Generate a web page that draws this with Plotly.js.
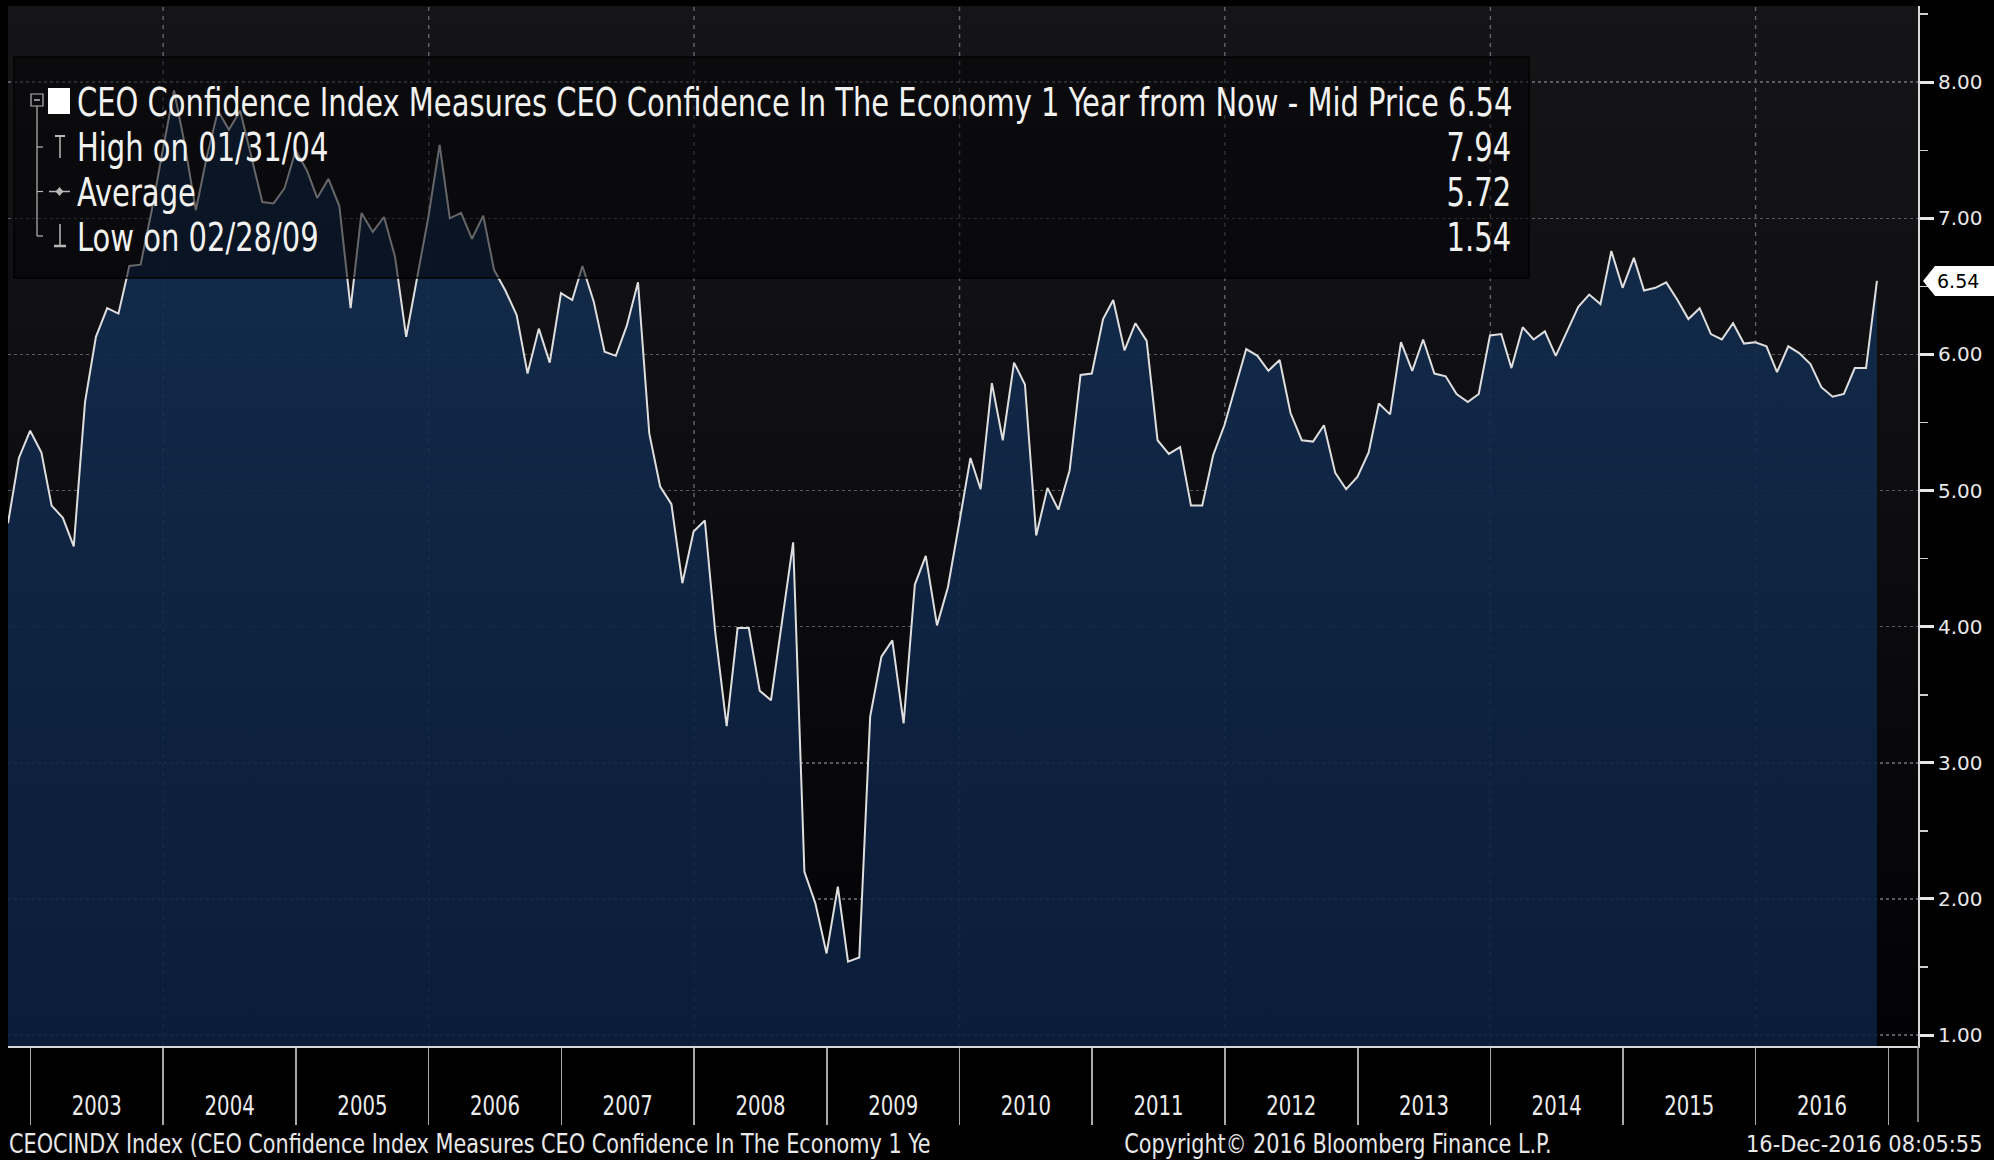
<!DOCTYPE html>
<html>
<head>
<meta charset="utf-8">
<script src="https://cdn.plot.ly/plotly-3.0.1.min.js"></script>
<style>
  html, body { margin: 0; padding: 0; background: #000; overflow: hidden; }
  #wrap { position: relative; width: 1994px; height: 1160px; background: #000; }
  #bg { position: absolute; left: 8px; top: 6px; width: 1910px; height: 1040px;
        background: linear-gradient(to bottom, #151518 0%, #0e0e11 45%, #020204 100%); }
  #chart { position: absolute; left: 0; top: 0; width: 1994px; height: 1160px; }
</style>
</head>
<body>
<div id="wrap"><div id="bg"></div><div id="chart"></div></div>
<script>
// ---- Data: CEO Confidence Index, month-end values ----
const v2002 = [4.76, 5.24, 5.44]; // Oct-Dec 2002
const v2003 = [5.28, 4.89, 4.80, 4.59, 5.65, 6.13, 6.34, 6.30, 6.65, 6.66, 7.05, 7.50];
const v2004 = [7.94, 7.55, 7.06, 7.45, 7.79, 7.65, 7.79, 7.45, 7.12, 7.11, 7.22, 7.50];
const v2005 = [7.35, 7.15, 7.29, 7.09, 6.34, 7.04, 6.90, 7.01, 6.72, 6.13, 6.55, 7.01];
const v2006 = [7.54, 7.00, 7.04, 6.85, 7.02, 6.62, 6.47, 6.29, 5.86, 6.19, 5.94, 6.45];
const v2007 = [6.40, 6.65, 6.39, 6.02, 5.99, 6.21, 6.53, 5.42, 5.03, 4.90, 4.32, 4.70];
const v2008 = [4.78, 3.95, 3.27, 3.99, 3.99, 3.53, 3.46, 4.04, 4.62, 2.20, 1.97, 1.60];
const v2009 = [2.09, 1.54, 1.57, 3.34, 3.78, 3.90, 3.29, 4.31, 4.52, 4.01, 4.29, 4.76];
const v2010 = [5.24, 5.01, 5.79, 5.37, 5.94, 5.78, 4.67, 5.02, 4.86, 5.15, 5.85, 5.86];
const v2011 = [6.26, 6.40, 6.03, 6.23, 6.10, 5.37, 5.27, 5.32, 4.89, 4.89, 5.26, 5.48];
const v2012 = [5.77, 6.04, 5.99, 5.88, 5.96, 5.57, 5.37, 5.36, 5.48, 5.13, 5.01, 5.10];
const v2013 = [5.28, 5.64, 5.56, 6.09, 5.88, 6.11, 5.86, 5.84, 5.71, 5.65, 5.71, 6.14];
const v2014 = [6.15, 5.90, 6.20, 6.11, 6.17, 5.99, 6.17, 6.35, 6.44, 6.37, 6.76, 6.49];
const v2015 = [6.71, 6.47, 6.49, 6.53, 6.40, 6.26, 6.34, 6.15, 6.11, 6.23, 6.08, 6.09];
const v2016 = [6.06, 5.87, 6.06, 6.01, 5.93, 5.76, 5.69, 5.71, 5.90, 5.90, 6.54]; // Jan-Nov 2016

const firstYear = 2002;
const firstMonth = 10;
const yearSeries = [v2002, v2003, v2004, v2005, v2006, v2007, v2008, v2009,
                    v2010, v2011, v2012, v2013, v2014, v2015, v2016];

const gridYears = ['2004-01-01', '2006-01-01', '2008-01-01', '2010-01-01',
                   '2012-01-01', '2014-01-01', '2016-01-01'];

const legendTitle = 'CEO Confidence Index Measures CEO Confidence In The Economy 1 Year from Now - Mid Price';
const averageLabel = 'Average';
const averageValue = '5.72';
const footerLeft = 'CEOCINDX Index (CEO Confidence Index Measures CEO Confidence In The Economy 1 Ye';
const footerMid = 'Copyright\u00A9 2016 Bloomberg Finance L.P.';
const footerRight = '16-Dec-2016 08:05:55';

// ---- Build series ----
const dates = [], values = [];
yearSeries.forEach((arr, i) => {
  const year = firstYear + i;
  const m0 = (i === 0) ? firstMonth : 1;
  arr.forEach((v, j) => {
    const d = new Date(Date.UTC(year, m0 + j, 0));
    dates.push(d.toISOString().slice(0, 10));
    values.push(v);
  });
});
const lastValue = values[values.length - 1];
let hiI = 0, loI = 0;
values.forEach((v, i) => { if (v > values[hiI]) hiI = i; if (v < values[loI]) loI = i; });
const fmtDate = s => s.slice(5, 7) + '/' + s.slice(8, 10) + '/' + s.slice(2, 4);

// ---- Pixel helpers for decorations ----
const PL = 8, PR = 1918, PT = 6, PB = 1046;
const px = x => (x - PL) / (PR - PL);
const py = y => (PB - y) / (PB - PT);

const NARROW = "'DejaVu Sans Condensed', 'Liberation Sans', sans-serif";
const TXT = '#f2f2f0';
const ICON = '#b8b8b8';

const trace = {
  x: dates, y: values, type: 'scatter', mode: 'lines',
  line: { color: '#dedede', width: 2 },
  fill: 'tozeroy',
  fillgradient: { type: 'vertical', start: 0.92, stop: 8.56,
    colorscale: [[0, 'rgba(11,31,62,0.9)'], [1, 'rgba(20,48,82,0.9)']] },
  hoverinfo: 'skip'
};

const shapes = [];
gridYears.forEach(g => shapes.push({
  type: 'line', xref: 'x', yref: 'paper', x0: g, x1: g, y0: 0, y1: 1,
  line: { color: '#5c6068', width: 1.5, dash: '4px,5px' }, layer: 'below'
}));
// right-edge separator below axis
shapes.push({ type: 'line', xref: 'paper', yref: 'paper', x0: 1, x1: 1, y0: 0, y1: py(1122),
  line: { color: '#a0a0a0', width: 1.5 } });
// legend box
shapes.push({ type: 'rect', xref: 'paper', yref: 'paper', x0: px(14), x1: px(1529), y0: py(57), y1: py(278),
  fillcolor: 'rgba(3,3,7,0.55)', line: { color: 'rgba(0,0,0,0.9)', width: 1.5 }, layer: 'above' });
// legend icons
const L = (x0, y0, x1, y1, w) => shapes.push({ type: 'line', xref: 'paper', yref: 'paper',
  x0: px(x0), y0: py(y0), x1: px(x1), y1: py(y1), line: { color: ICON, width: w || 1.5 }, layer: 'above' });
shapes.push({ type: 'rect', xref: 'paper', yref: 'paper', x0: px(31), x1: px(43), y0: py(94), y1: py(106),
  line: { color: ICON, width: 1.2 }, layer: 'above' });
L(34, 100, 40, 100, 1.5);
shapes.push({ type: 'rect', xref: 'paper', yref: 'paper', x0: px(48), x1: px(70), y0: py(88), y1: py(114),
  fillcolor: '#ffffff', line: { width: 0 }, layer: 'above' });
L(37, 106, 37, 236, 1.2);
L(37, 147, 43, 147, 1.2);
L(37, 191.5, 43, 191.5, 1.2);
L(37, 236, 43, 236, 1.2);
L(55, 136, 65, 136, 2); L(60, 136, 60, 158, 1.5);
L(49, 191.5, 70, 191.5, 1.5);
shapes.push({ type: 'path', xref: 'paper', yref: 'paper', layer: 'above', fillcolor: ICON, line: { width: 0 },
  path: `M ${px(59.5)} ${py(187)} L ${px(63.5)} ${py(191.5)} L ${px(59.5)} ${py(196)} L ${px(55.5)} ${py(191.5)} Z` });
L(60, 224, 60, 246, 1.5); L(54, 246, 66, 246, 2.5);
// last value marker on the axis
shapes.push({ type: 'path', xref: 'paper', yref: 'y', xsizemode: 'pixel', ysizemode: 'pixel',
  xanchor: 1, yanchor: lastValue, path: 'M 5 0 L 17 15 L 76 15 L 76 -15 L 17 -15 Z',
  fillcolor: '#ffffff', line: { width: 0 }, layer: 'above' });

const squeeze = [];
const ann = (text, x, y, xanchor, size, f, color) => {
  squeeze.push(f);
  return {
    text, xref: 'paper', yref: 'paper', x: px(x), y: py(y), xanchor, yanchor: 'middle', align: xanchor,
    showarrow: false, font: { family: NARROW, size, color: color || TXT }
  };
};
const LF = 38.5, LQ = 0.837;
const FQ = 0.855;
const annotations = [
  ann(legendTitle + ' ' + lastValue.toFixed(2), 75, 102.5, 'left', LF, LQ),
  ann('High on ' + fmtDate(dates[hiI]), 75, 148, 'left', LF, LQ),
  ann(values[hiI].toFixed(2), 1513, 148, 'right', LF, LQ),
  ann(averageLabel, 75, 192.5, 'left', LF, LQ),
  ann(averageValue, 1513, 192.5, 'right', LF, LQ),
  ann('Low on ' + fmtDate(dates[loI]), 75, 237, 'left', LF, LQ),
  ann(values[loI].toFixed(2), 1513, 237, 'right', LF, LQ),
  ann(footerLeft, 7, 1143, 'left', 27, FQ, '#e8e8e8'),
  ann(footerMid, 1338, 1143, 'center', 27, FQ, '#e8e8e8'),
  ann(footerRight, 1984, 1143, 'right', 23.3, 1, '#e8e8e8')
];
squeeze.push(1);
annotations.push({ text: lastValue.toFixed(2), xref: 'paper', yref: 'y', x: 1, y: lastValue, xanchor: 'left', xshift: 17,
  yanchor: 'middle', showarrow: false, font: { family: 'DejaVu Sans', size: 19, color: '#000' } });

const layout = {
  width: 1994, height: 1160,
  margin: { l: PL, r: 1994 - PR, t: PT, b: 1160 - PB, pad: 0 },
  paper_bgcolor: 'rgba(0,0,0,0)', plot_bgcolor: 'rgba(0,0,0,0)',
  showlegend: false,
  xaxis: {
    type: 'date', range: ['2002-10-31', '2017-03-23'],
    tick0: '2003-01-01', dtick: 'M12', tickformat: '%Y', ticklabelmode: 'period',
    ticks: 'outside', ticklen: 77, tickwidth: 1.5, tickcolor: '#a8a8a8',
    ticklabelstandoff: -42,
    showgrid: false, zeroline: false, showline: true, linecolor: '#d8d8d8', linewidth: 2,
    tickfont: { family: NARROW, size: 27, color: '#ececec' }, fixedrange: true
  },
  yaxis: {
    side: 'right', range: [0.92, 8.56], tick0: 0, dtick: 1, tickformat: '.2f',
    ticks: 'outside', ticklen: 14, tickwidth: 3, tickcolor: '#e6e6e6',
    minor: { tick0: 0.5, dtick: 0.5, ticks: 'outside', ticklen: 8, tickwidth: 1.5, tickcolor: '#cfcfcf', showgrid: false },
    showline: true, linecolor: '#d8d8d8', linewidth: 2, zeroline: false,
    showgrid: true, gridcolor: '#575b62', gridwidth: 1.5, griddash: 'dot',
    tickfont: { family: 'DejaVu Sans', size: 20, color: '#e8e8e8' }, fixedrange: true
  },
  shapes, annotations
};

function squeezeText(el, f) {
  const w = el.getComputedTextLength();
  if (w > 0) {
    el.setAttribute('textLength', (w * f).toFixed(1));
    el.setAttribute('lengthAdjust', 'spacingAndGlyphs');
  }
}

Plotly.newPlot('chart', [trace], layout, { staticPlot: true, displayModeBar: false }).then(gd => {
  gd.querySelectorAll('g.annotation').forEach(g => {
    const i = +g.getAttribute('data-index');
    const f = squeeze[i];
    if (f && f !== 1) {
      const t = g.querySelector('text.annotation-text');
      if (t) squeezeText(t, f);
    }
  });
  gd.querySelectorAll('.xtick text').forEach(t => squeezeText(t, 0.81));
});
</script>
</body>
</html>
